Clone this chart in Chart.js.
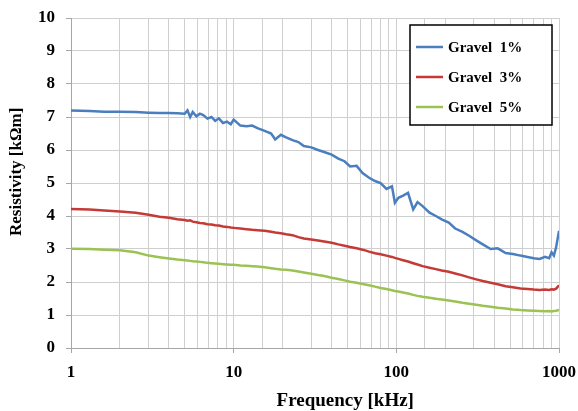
<!DOCTYPE html>
<html lang="en">
<head>
  <meta charset="UTF-8">
  <title>Resistivity vs Frequency</title>
  <script src="https://cdn.jsdelivr.net/npm/chart.js"></script>
  <style>
    body {
      margin: 0;
      background-color: #ffffff;
    }
    #chart {
      display: block;
    }
  </style>
</head>
<body>
  <canvas id="chart" width="578" height="411"></canvas>

  <script>
// Frequency points [kHz]
const freq = [1, 1.3, 1.6, 2, 2.5, 3, 3.5, 4, 4.5, 5,
  5.2, 5.4, 5.6, 5.9, 6.2, 6.5, 6.9, 7.3, 7.7, 8.1,
  8.6, 9.1, 9.6, 10, 11, 12, 13, 14, 15.5, 17,
  18, 19.5, 21, 23, 25, 27, 30, 33, 36, 40,
  44, 48, 52, 57, 62, 68, 74, 80, 87, 94,
  98, 103, 110, 118, 127, 135, 145, 160, 175, 190,
  210, 230, 255, 280, 310, 340, 380, 420, 470, 520,
  580, 640, 700, 760, 820, 870, 900, 930, 960, 1000];

// Resistivity [kOhm m]
const gravel1 = [7.20, 7.18, 7.16, 7.16, 7.15, 7.13, 7.12, 7.12, 7.11, 7.10,
  7.20, 7.00, 7.15, 7.02, 7.10, 7.06, 6.95, 7.00, 6.88, 6.96,
  6.82, 6.86, 6.78, 6.92, 6.74, 6.72, 6.74, 6.66, 6.58, 6.50,
  6.32, 6.46, 6.38, 6.30, 6.24, 6.12, 6.08, 6.00, 5.94, 5.86,
  5.74, 5.66, 5.50, 5.52, 5.30, 5.16, 5.06, 5.00, 4.82, 4.90,
  4.40, 4.55, 4.62, 4.70, 4.20, 4.42, 4.30, 4.10, 4.00, 3.90,
  3.80, 3.62, 3.52, 3.40, 3.26, 3.14, 3.00, 3.02, 2.88, 2.85,
  2.80, 2.76, 2.72, 2.70, 2.76, 2.72, 2.90, 2.80, 3.05, 3.55];

const gravel3 = [4.21, 4.20, 4.17, 4.14, 4.10, 4.04, 3.98, 3.95, 3.90, 3.88,
  3.86, 3.87, 3.83, 3.81, 3.79, 3.78, 3.75, 3.74, 3.72, 3.71,
  3.68, 3.67, 3.65, 3.64, 3.62, 3.60, 3.58, 3.57, 3.55, 3.52,
  3.50, 3.48, 3.45, 3.42, 3.36, 3.32, 3.29, 3.26, 3.23, 3.19,
  3.14, 3.10, 3.06, 3.02, 2.98, 2.92, 2.87, 2.84, 2.80, 2.76,
  2.73, 2.70, 2.66, 2.62, 2.57, 2.53, 2.48, 2.43, 2.39, 2.35,
  2.31, 2.26, 2.20, 2.14, 2.08, 2.03, 1.98, 1.93, 1.87, 1.84,
  1.80, 1.79, 1.77, 1.76, 1.77, 1.76, 1.78, 1.77, 1.80, 1.90];

const gravel5 = [3.01, 3.00, 2.98, 2.96, 2.90, 2.80, 2.75, 2.71, 2.68, 2.66,
  2.65, 2.64, 2.63, 2.62, 2.61, 2.60, 2.58, 2.57, 2.56, 2.55,
  2.54, 2.53, 2.52, 2.52, 2.50, 2.49, 2.48, 2.47, 2.45, 2.42,
  2.40, 2.38, 2.37, 2.35, 2.32, 2.29, 2.25, 2.21, 2.18, 2.13,
  2.09, 2.05, 2.01, 1.98, 1.94, 1.90, 1.86, 1.82, 1.79, 1.75,
  1.73, 1.71, 1.68, 1.65, 1.61, 1.58, 1.55, 1.52, 1.49, 1.47,
  1.44, 1.41, 1.37, 1.34, 1.31, 1.28, 1.25, 1.22, 1.20, 1.17,
  1.15, 1.14, 1.13, 1.12, 1.11, 1.12, 1.11, 1.12, 1.13, 1.15];

const seriesNames = ['Gravel  1%', 'Gravel  3%', 'Gravel  5%'];
const majorTicks = [1, 10, 100, 1000];

const serif = "'Liberation Serif', 'Times New Roman', serif";
const gridColor = '#cfcfcf';

const toPoints = (vals) => freq.map((f, i) => ({ x: f, y: vals[i] }));

const makeSet = (label, vals, color) => ({
  label: label,
  data: toPoints(vals),
  borderColor: color,
  backgroundColor: color,
  borderWidth: 2.5,
  pointRadius: 0,
  tension: 0,
  fill: false
});

// Axis titles and the framed legend, drawn by hand like the original
const decorations = {
  id: 'decorations',
  afterDraw(chart) {
    const ctx = chart.ctx;
    const area = chart.chartArea;
    ctx.save();

    // x title
    ctx.fillStyle = '#000';
    ctx.font = 'bold 19px ' + serif;
    ctx.textAlign = 'center';
    ctx.textBaseline = 'middle';
    ctx.fillText('Frequency [kHz]', area.left + (area.right - area.left) * 0.562, 401);

    // y title
    ctx.save();
    ctx.translate(17, area.top + (area.bottom - area.top) * 0.466);
    ctx.rotate(-Math.PI / 2);
    ctx.font = 'bold 17px ' + serif;
    ctx.fillText('Resistivity [k\u03A9m]', 0, 0);
    ctx.restore();

    // legend box
    const bx = area.right - 149, by = area.top + 7, bw = 142, bh = 100;
    ctx.fillStyle = '#fff';
    ctx.fillRect(bx, by, bw, bh);
    ctx.strokeStyle = '#000';
    ctx.lineWidth = 1.5;
    ctx.strokeRect(bx, by, bw, bh);

    ctx.font = 'bold 15px ' + serif;
    ctx.textAlign = 'left';
    chart.data.datasets.forEach((ds, i) => {
      const y = by + 22 + i * 30;
      ctx.strokeStyle = ds.borderColor;
      ctx.lineWidth = 2.5;
      ctx.beginPath();
      ctx.moveTo(bx + 6, y);
      ctx.lineTo(bx + 33, y);
      ctx.stroke();
      ctx.fillStyle = '#000';
      ctx.fillText(ds.label, bx + 38, y + 1);
    });

    ctx.restore();
  }
};

const chart = new Chart(document.getElementById('chart'), {
  type: 'line',
  data: {
    datasets: [
      makeSet(seriesNames[0], gravel1, '#4a7ebf'),
      makeSet(seriesNames[1], gravel3, '#c43a36'),
      makeSet(seriesNames[2], gravel5, '#9bc253')
    ]
  },
  options: {
    responsive: false,
    animation: false,
    layout: {
      padding: { left: 0, top: 18, right: 19, bottom: 0 }
    },
    scales: {
      x: {
        type: 'logarithmic',
        min: 1,
        max: 1000,
        afterFit: (scale) => {
          scale.height = 63;
          scale.paddingLeft = 0;
          scale.paddingRight = 0;
        },
        border: { color: '#a6a6a6', width: 1 },
        grid: {
          color: gridColor,
          tickLength: 5,
          tickColor: (c) => majorTicks.includes(c.tick && c.tick.value) ? '#a6a6a6' : 'rgba(0,0,0,0)'
        },
        ticks: {
          autoSkip: false,
          maxRotation: 0,
          padding: 9,
          color: '#000',
          font: { family: serif, size: 17, weight: 'bold' },
          callback: (v) => majorTicks.includes(v) ? String(v) : ''
        }
      },
      y: {
        min: 0,
        max: 10,
        afterFit: (scale) => {
          scale.width = 71;
          scale.paddingTop = 0;
          scale.paddingBottom = 0;
        },
        border: { color: '#a6a6a6', width: 1 },
        grid: {
          color: gridColor,
          tickLength: 5,
          tickColor: '#a6a6a6'
        },
        ticks: {
          stepSize: 1,
          padding: 11,
          color: '#000',
          font: { family: serif, size: 17, weight: 'bold' }
        }
      }
    },
    plugins: {
      legend: { display: false },
      tooltip: { enabled: false }
    }
  },
  plugins: [decorations]
});
  </script>
</body>
</html>
